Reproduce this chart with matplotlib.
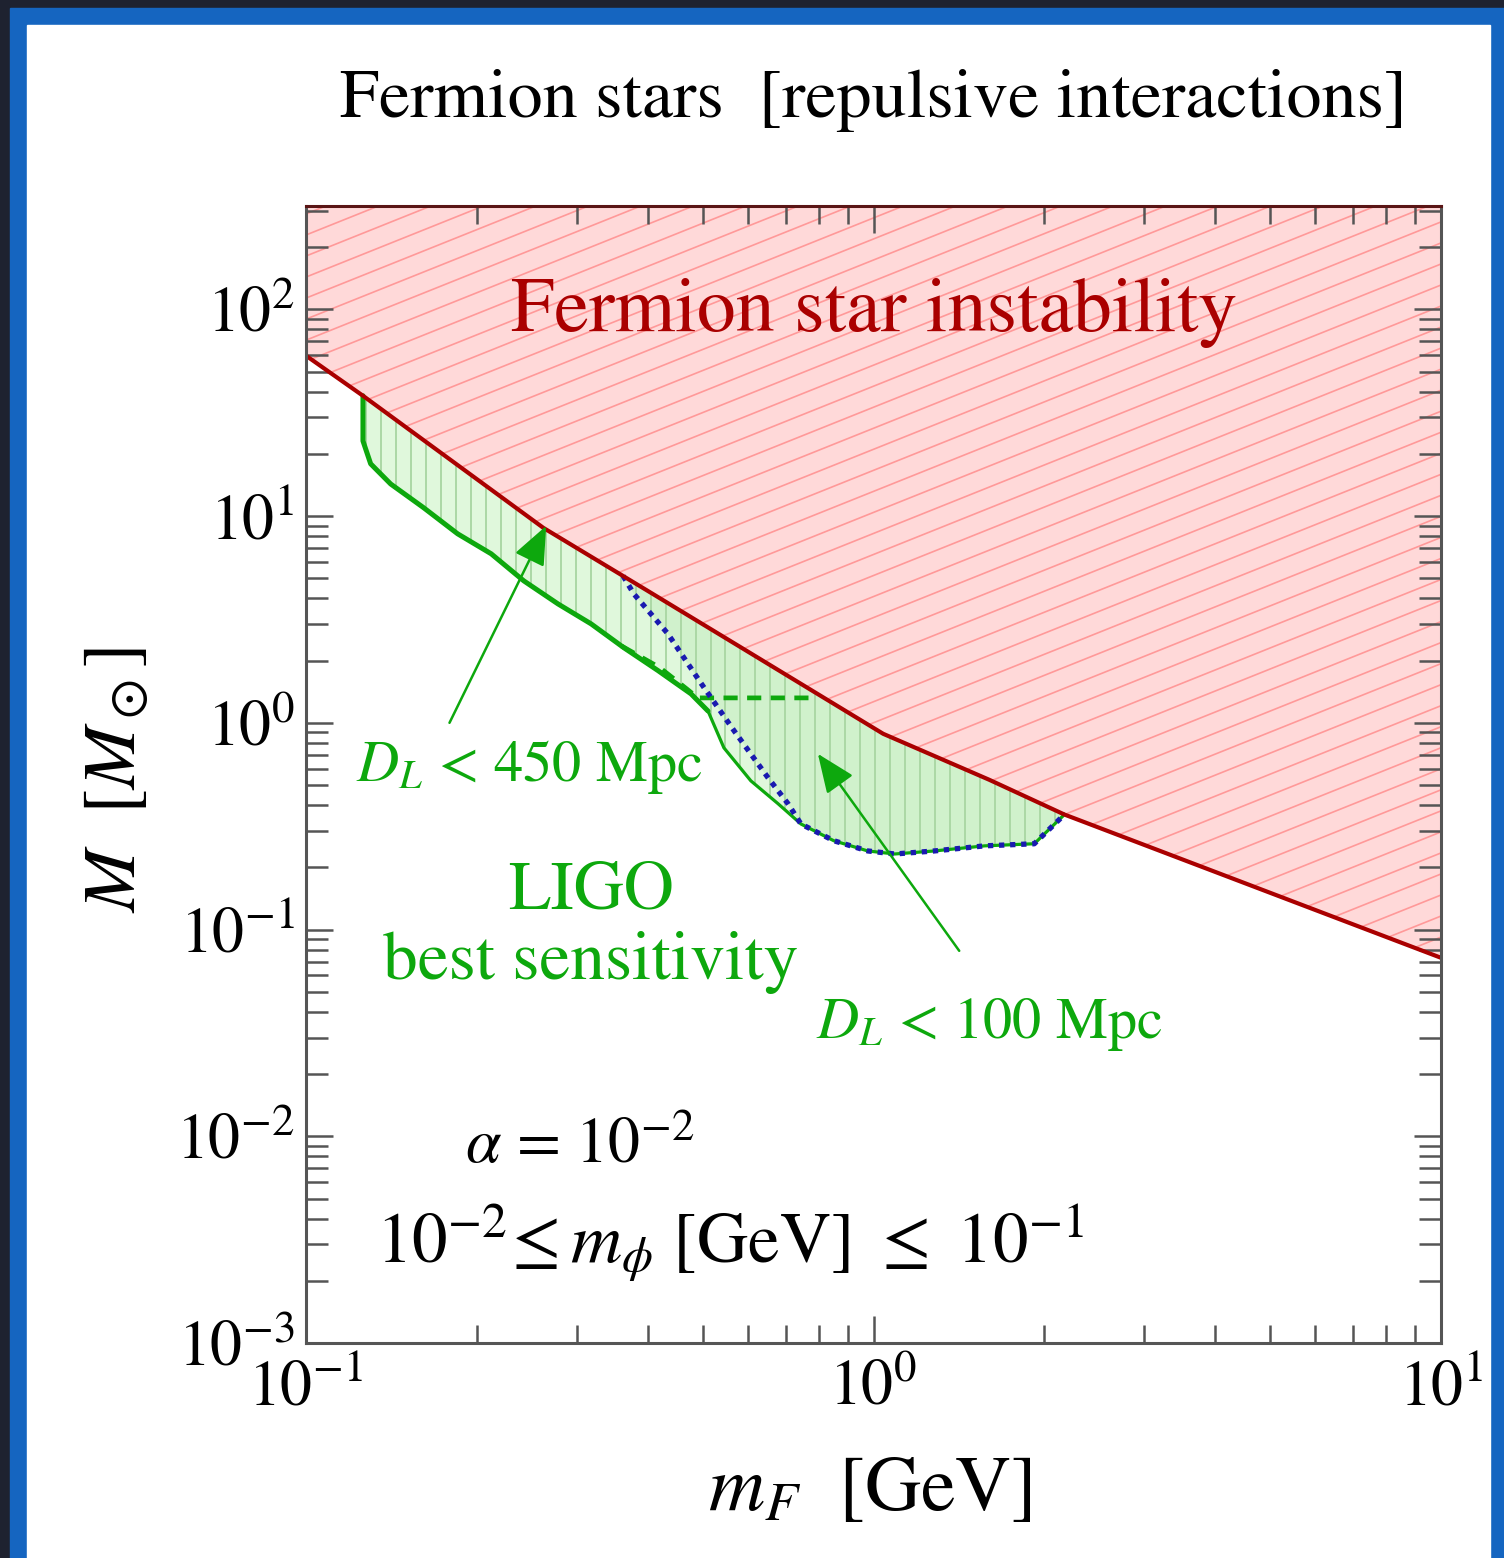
import numpy as np
import matplotlib
matplotlib.use('Agg')
import matplotlib.pyplot as plt
from matplotlib.patches import Polygon, Rectangle
from matplotlib.ticker import LogLocator, NullFormatter

plt.rcParams['font.family'] = 'STIXGeneral'
plt.rcParams['mathtext.fontset'] = 'stix'

# fermion star instability boundary (M in solar masses vs m_F in GeV)
red_mF = np.array([0.1, 0.126, 0.262, 0.40, 0.585, 1.04, 1.6, 2.17, 10.0])
red_M = np.array([59.7, 38.2, 8.77, 4.35, 2.31, 0.885, 0.53, 0.36, 0.073])

# LIGO reach, D_L < 450 Mpc (lower edge, starting on the instability line)
ligo450_mF = np.array([0.126, 0.126, 0.130, 0.141, 0.161, 0.185, 0.212, 0.242, 0.278,
                       0.318, 0.363, 0.417, 0.477, 0.511, 0.545, 0.608, 0.679, 0.745,
                       0.851, 0.977, 1.09, 1.28, 1.57, 1.92, 2.17])
ligo450_M = np.array([38.2, 23.1, 17.9, 14.3, 11.0, 8.21, 6.57, 4.86, 3.76,
                      3.01, 2.31, 1.79, 1.38, 1.14, 0.757, 0.524, 0.406, 0.324,
                      0.269, 0.240, 0.232, 0.240, 0.254, 0.260, 0.36])

# LIGO reach, D_L < 100 Mpc
ligo100_mF = np.array([0.362, 0.378, 0.434, 0.497, 0.568, 0.652, 0.707, 0.745, 0.851,
                       0.977, 1.09, 1.28, 1.57, 1.92, 2.17])
ligo100_M = np.array([5.14, 4.21, 2.70, 1.55, 0.915, 0.542, 0.406, 0.324, 0.269,
                      0.240, 0.232, 0.240, 0.254, 0.260, 0.36])

# dashed edge
dash_mF = np.array([0.36, 0.42, 0.47, 0.49, 0.78])
dash_M = np.array([2.35, 1.85, 1.45, 1.32, 1.32])

RED = '#AA0000'
GREEN = '#0DA80D'
BLUE = '#1A1AB0'

fig = plt.figure(figsize=(15.04, 15.58), dpi=100)
fig.patch.set_facecolor('#1e2230')
W, H = 1504.0, 1558.0

def px(x0, y0, x1, y1):
    return (x0 / W, 1 - y1 / H), (x1 - x0) / W, (y1 - y0) / H

xy, w, h = px(10, 8, 1504, 1558)
fig.patches.append(Rectangle(xy, w, h, transform=fig.transFigure, color='#1565C0', zorder=-10))
xy, w, h = px(27, 25, 1490, 1558)
fig.patches.append(Rectangle(xy, w, h, transform=fig.transFigure, color='white', zorder=-9))

ax = fig.add_axes([306 / W, 1 - 1343 / H, 1135 / W, 1137 / H])
ax.set_zorder(1)
ax.set_xscale('log')
ax.set_yscale('log')
ax.set_xlim(0.1, 10)
ax.set_ylim(1e-3, 10 ** 2.5)
ax.patch.set_alpha(0)

# red excluded region
top = 10 ** 2.5
red_poly = Polygon(np.column_stack([np.r_[red_mF, 10, 0.1], np.r_[red_M, top, top]]),
                   closed=True, facecolor='#FFD9D9', edgecolor='none', zorder=1)
ax.add_patch(red_poly)
for c in np.arange(-0.45, 1.0, 0.0185):
    ln, = ax.plot([0, 1], [c, c + 0.40], transform=ax.transAxes, color='#FF9999',
                  lw=1.2, zorder=1.1)
    ln.set_clip_path(red_poly)
ax.plot(red_mF, red_M, color=RED, lw=3.0, zorder=5, solid_capstyle='butt')

# green regions
def region(mF, M):
    m = (red_mF > mF[0]) & (red_mF < mF[-1])
    xs = np.r_[mF, red_mF[m][::-1]]
    ys = np.r_[M, red_M[m][::-1]]
    return np.column_stack([xs, ys])

p450 = Polygon(region(ligo450_mF, ligo450_M), closed=True, facecolor='#E0F8DC',
               edgecolor='none', zorder=2)
ax.add_patch(p450)
p100 = Polygon(region(ligo100_mF, ligo100_M), closed=True, facecolor='#00A000',
               alpha=0.07, edgecolor='none', zorder=2.05)
ax.add_patch(p100)
for c in np.arange(0.0, 1.0, 0.0132):
    ln, = ax.plot([c, c], [0, 1], transform=ax.transAxes, color='#ABD8A5', lw=1.4, zorder=2.1)
    ln.set_clip_path(p450)

ax.plot(ligo450_mF, ligo450_M, color=GREEN, lw=2.3, zorder=3)
ax.plot(ligo450_mF[:14], ligo450_M[:14], color=GREEN, lw=3.6, zorder=3,
        solid_capstyle='round')
ax.plot(dash_mF, dash_M, color=GREEN, lw=3.4, ls=(0, (3.0, 2.0)), zorder=3)
ax.plot(ligo100_mF, ligo100_M, color=BLUE, lw=3.8, ls=(0, (1.0, 1.1)), zorder=3.5)

# arrows
arw = dict(arrowstyle='-|>,head_length=0.6,head_width=0.25', color=GREEN, lw=1.8,
           mutation_scale=40, shrinkA=0, shrinkB=0)
ax.annotate('', xy=(0.265, 8.97), xytext=(0.179, 1.0), arrowprops=arw, zorder=6)
ax.annotate('', xy=(0.798, 0.708), xytext=(1.416, 0.0789), arrowprops=arw, zorder=6)

# axes styling
for s in ax.spines.values():
    s.set_color('#555555')
    s.set_linewidth(2.2)
    s.set_zorder(7)
ax.spines['top'].set_color('#5a1515')
ax.xaxis.set_minor_locator(LogLocator(base=10, subs=np.arange(2, 10), numticks=100))
ax.yaxis.set_minor_locator(LogLocator(base=10, subs=np.arange(2, 10), numticks=100))
ax.xaxis.set_minor_formatter(NullFormatter())
ax.yaxis.set_minor_formatter(NullFormatter())
ax.yaxis.set_major_locator(LogLocator(base=10, numticks=100))
ax.tick_params(which='both', direction='in', top=True, right=True, color='#555555',
               width=1.8, labelsize=46)
ax.tick_params(which='major', length=19.5)
ax.tick_params(axis='y', which='minor', length=15.5)
ax.tick_params(axis='x', which='minor', length=13)
ax.tick_params(axis='x', pad=12)
ax.tick_params(axis='y', pad=8)

# labels
fig.text(340 / W, 1 - 117 / H, 'Fermion stars  [repulsive interactions]', ha='left',
         va='baseline', fontsize=50.5)
fig.text(118 / W, 1 - 780 / H, r'$M\ \ [M_\odot]$', rotation=90, ha='center',
         va='center', fontsize=54)
fig.text(870 / W, 1 - 1510 / H, r'$m_F\ \ [\mathrm{GeV}]$', ha='center',
         va='baseline', fontsize=56)

ax.text(0.2296, 78.8, 'Fermion star instability', color=RED, fontsize=56,
        ha='left', va='baseline', zorder=8)
ax.text(0.1225, 0.524, r'$D_L$ < 450 Mpc', color=GREEN, fontsize=42,
        ha='left', va='baseline', zorder=8)
ax.text(0.318, 0.126, 'LIGO', color=GREEN, fontsize=50, ha='center',
        va='baseline', zorder=8)
ax.text(0.318, 0.0577, 'best sensitivity', color=GREEN, fontsize=50, ha='center',
        va='baseline', zorder=8)
ax.text(0.792, 0.0299, r'$D_L$ < 100 Mpc', color=GREEN, fontsize=42,
        ha='left', va='baseline', zorder=8)
ax.text(0.191, 0.00743, r'$\alpha$ = $10^{-2}$', fontsize=46, ha='left',
        va='baseline', zorder=8)
ax.text(0.133, 0.00244, r'$10^{-2}\!\leq m_\phi\ [\mathrm{GeV}]\ \leq\ 10^{-1}$',
        fontsize=51, ha='left', va='baseline', zorder=8)

fig.savefig('out.png', dpi=100, facecolor=fig.get_facecolor())
